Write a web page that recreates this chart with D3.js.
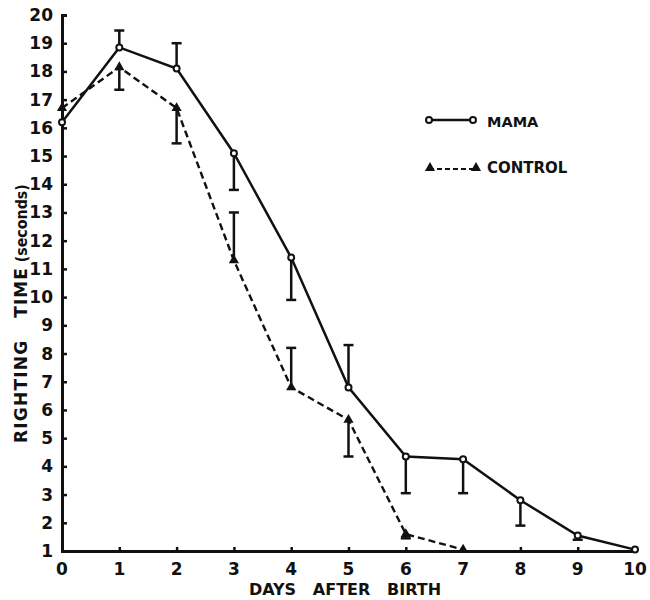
<!DOCTYPE html>
<html>
<head>
<meta charset="utf-8">
<script src="https://cdn.jsdelivr.net/npm/d3@7"></script>
<style>
  body { margin: 0; background: #fff; }
  text { font-family: "DejaVu Sans", sans-serif; font-weight: bold; fill: #111; }
</style>
</head>
<body>
<svg width="650" height="600"></svg>
<script>
var svg = d3.select("svg");

// data
var days = [0, 1, 2, 3, 4, 5, 6, 7, 8, 9, 10];
var mama = [16.2, 18.85, 18.1, 15.1, 11.4, 6.8, 4.35, 4.25, 2.8, 1.55, 1.05];
var mamaErrEnd = [null, 19.45, 19.0, 13.8, 9.9, 8.3, 3.05, 3.05, 1.9, 1.4, null];
var controlDays = [0, 1, 2, 3, 4, 5, 6, 7];
var control = [16.7, 18.15, 16.7, 11.3, 6.8, 5.65, 1.6, 1.05];
var controlErrEnd = [null, 17.35, 15.45, 13.0, 8.2, 4.35, 1.45, null];
var yTicks = d3.range(1, 21);
var xTicks = d3.range(0, 11);

var x = d3.scaleLinear().domain([0, 10]).range([62, 635]);
var y = d3.scaleLinear().domain([1, 20]).range([551, 15]);

var ink = "#111";

// axes
svg.append("g")
    .attr("transform", "translate(" + x(0) + ",0)")
    .call(d3.axisRight(y).tickValues(yTicks).tickSize(5).tickFormat(""));
svg.append("g")
    .attr("transform", "translate(0," + y(1) + ")")
    .call(d3.axisTop(x).tickValues(xTicks).tickSize(4).tickFormat(""));
svg.selectAll(".domain").attr("stroke", ink).attr("stroke-width", 3);
svg.selectAll(".tick line").attr("stroke", ink).attr("stroke-width", 2.5);

// tick labels
svg.append("g").selectAll("text")
    .data(yTicks)
    .enter()
    .append("text")
      .attr("x", 53)
      .attr("y", function(d){ return y(d) + 6 })
      .attr("text-anchor", "end")
      .style("font-size", "17px")
      .text(function(d){ return d });

svg.append("g").selectAll("text")
    .data(xTicks)
    .enter()
    .append("text")
      .attr("x", function(d){ return x(d) })
      .attr("y", 575)
      .attr("text-anchor", "middle")
      .style("font-size", "17px")
      .text(function(d){ return d });

// axis titles
svg.append("text")
    .attr("x", 345).attr("y", 595)
    .attr("text-anchor", "middle")
    .style("font-size", "16px")
    .attr("xml:space", "preserve")
    .text("DAYS   AFTER   BIRTH");

var yt = svg.append("text")
    .attr("transform", "translate(27,443) rotate(-90)")
    .attr("text-anchor", "start")
    .attr("xml:space", "preserve");
yt.append("tspan").style("font-size", "17px").style("letter-spacing", "1.2px").text("RIGHTING");
yt.append("tspan").attr("dx", 22).style("font-size", "17px").style("letter-spacing", "1px").text("TIME");
yt.append("tspan").attr("dx", 5).style("font-size", "16px")
    .attr("textLength", 78).attr("lengthAdjust", "spacingAndGlyphs").text("(seconds)");

// error bars
function errorBars(xs, vals, ends) {
  var g = svg.append("g").attr("stroke", ink).attr("stroke-width", 2.5);
  xs.forEach(function(d, i){
    if (ends[i] == null) return;
    g.append("line")
      .attr("x1", x(d)).attr("x2", x(d))
      .attr("y1", y(vals[i])).attr("y2", y(ends[i]));
    g.append("line")
      .attr("x1", x(d) - 5).attr("x2", x(d) + 5)
      .attr("y1", y(ends[i])).attr("y2", y(ends[i]));
  });
}
errorBars(days, mama, mamaErrEnd);
errorBars(controlDays, control, controlErrEnd);

var line = d3.line()
    .x(function(d){ return x(d[0]) })
    .y(function(d){ return y(d[1]) });

svg.append("path")
    .datum(controlDays.map(function(d, i){ return [d, control[i]] }))
    .attr("d", line)
    .attr("fill", "none")
    .attr("stroke", ink)
    .attr("stroke-width", 2.4)
    .attr("stroke-dasharray", "7,4");

svg.append("path")
    .datum(days.map(function(d, i){ return [d, mama[i]] }))
    .attr("d", line)
    .attr("fill", "none")
    .attr("stroke", ink)
    .attr("stroke-width", 2.5);

// markers
var tri = d3.symbol().type(d3.symbolTriangle).size(45);
svg.append("g").selectAll("path")
    .data(controlDays)
    .enter()
    .append("path")
      .attr("d", tri)
      .attr("transform", function(d, i){ return "translate(" + x(d) + "," + y(control[i]) + ")" })
      .attr("fill", ink);

svg.append("g").selectAll("circle")
    .data(days)
    .enter()
    .append("circle")
      .attr("cx", function(d){ return x(d) })
      .attr("cy", function(d, i){ return y(mama[i]) })
      .attr("r", 3)
      .attr("fill", "#fff")
      .attr("stroke", ink)
      .attr("stroke-width", 2);

// legend
var lg = svg.append("g");
lg.append("line").attr("x1", 429).attr("x2", 473).attr("y1", 120).attr("y2", 120)
    .attr("stroke", ink).attr("stroke-width", 2.5);
lg.selectAll("circle").data([429, 473]).enter().append("circle")
    .attr("cx", function(d){ return d }).attr("cy", 120).attr("r", 3)
    .attr("fill", "#fff").attr("stroke", ink).attr("stroke-width", 2);
lg.append("text").attr("x", 487).attr("y", 127).style("font-size", "14.5px").text("MAMA");

lg.append("line").attr("x1", 429).attr("x2", 477).attr("y1", 169).attr("y2", 169)
    .attr("stroke", ink).attr("stroke-width", 2.2).attr("stroke-dasharray", "5,3");
lg.selectAll("path").data([430, 476]).enter().append("path")
    .attr("d", tri)
    .attr("transform", function(d){ return "translate(" + d + ",168)" })
    .attr("fill", ink);
lg.append("text").attr("x", 487).attr("y", 173).style("font-size", "15px").text("CONTROL");
</script>
</body>
</html>
